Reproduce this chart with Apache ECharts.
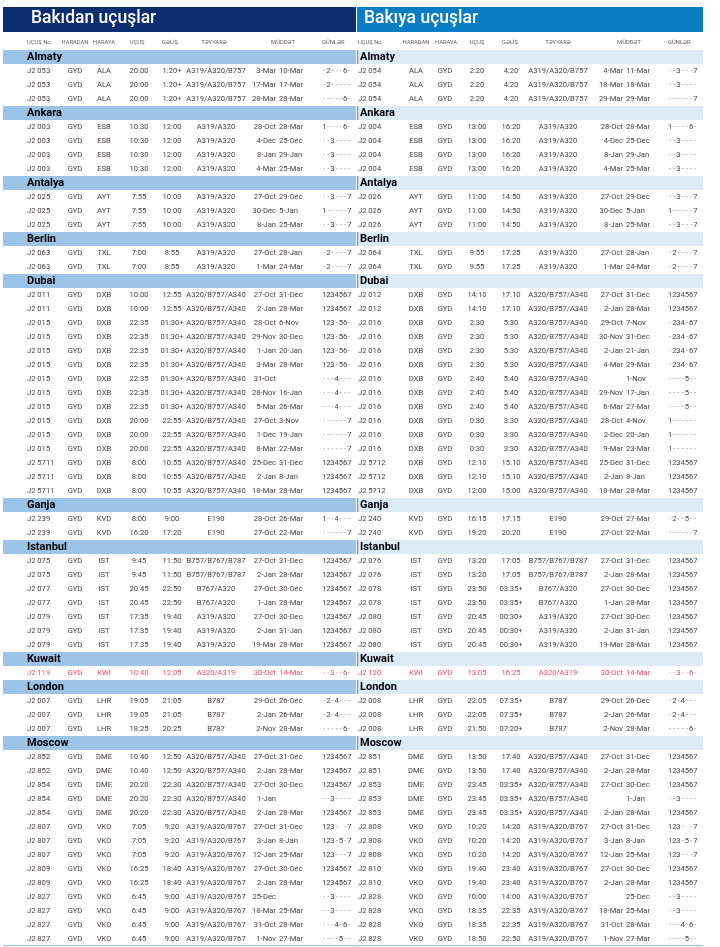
<!DOCTYPE html>
<html style="height: 100%">
<head>
    <meta charset="utf-8">
</head>
<body style="height: 100%; margin: 0; background: #fff">
<div id="container" style="width: 720px; height: 947px"></div>
<script type="text/javascript" src="https://cdn.jsdelivr.net/npm/echarts@6/dist/echarts.min.js"></script>
<script type="text/javascript">
    // sections (cities) in the order they appear
    var cities = ['Almaty', 'Ankara', 'Antalya', 'Berlin', 'Dubai', 'Ganja', 'Istanbul', 'Kuwait', 'London', 'Moscow'];
    var headLabels = ['UÇUŞ No.', 'HARADAN', 'HARAYA', 'UÇUŞ', 'GƏLİŞ', 'TƏYYARƏ', 'MÜDDƏT', 'GÜNLƏR'];
    var highlightFlights = ['J2 119', 'J2 120'];

    // Bakıdan uçuşlar: flight, from, to, dep, arr, aircraft, valid from, valid till, days
    var depAlmaty = [
        ['J2 053', 'GYD', 'ALA', '20:00', '1:20+', 'A319/A320/B757', '3-Mar', '10-Mar', '-2---6-'],
        ['J2 053', 'GYD', 'ALA', '20:00', '1:20+', 'A319/A320/B757', '17-Mar', '17-Mar', '-2-----'],
        ['J2 053', 'GYD', 'ALA', '20:00', '1:20+', 'A319/A320/B757', '28-Mar', '28-Mar', '-----6-']
    ];
    var depAnkara = [
        ['J2 003', 'GYD', 'ESB', '10:30', '12:00', 'A319/A320', '28-Oct', '28-Mar', '1----6-'],
        ['J2 003', 'GYD', 'ESB', '10:30', '12:00', 'A319/A320', '4-Dec', '25-Dec', '--3----'],
        ['J2 003', 'GYD', 'ESB', '10:30', '12:00', 'A319/A320', '8-Jan', '29-Jan', '--3----'],
        ['J2 003', 'GYD', 'ESB', '10:30', '12:00', 'A319/A320', '4-Mar', '25-Mar', '--3----']
    ];
    var depAntalya = [
        ['J2 025', 'GYD', 'AYT', '7:55', '10:00', 'A319/A320', '27-Oct', '29-Dec', '--3---7'],
        ['J2 025', 'GYD', 'AYT', '7:55', '10:00', 'A319/A320', '30-Dec', '5-Jan', '1-----7'],
        ['J2 025', 'GYD', 'AYT', '7:55', '10:00', 'A319/A320', '8-Jan', '25-Mar', '--3---7']
    ];
    var depBerlin = [
        ['J2 063', 'GYD', 'TXL', '7:00', '8:55', 'A319/A320', '27-Oct', '28-Jan', '-2----7'],
        ['J2 063', 'GYD', 'TXL', '7:00', '8:55', 'A319/A320', '1-Mar', '24-Mar', '-2----7']
    ];
    var depDubai = [
        ['J2 011', 'GYD', 'DXB', '10:00', '12:55', 'A320/B757/A340', '27-Oct', '31-Dec', '1234567'],
        ['J2 011', 'GYD', 'DXB', '10:00', '12:55', 'A320/B757/A340', '2-Jan', '28-Mar', '1234567'],
        ['J2 015', 'GYD', 'DXB', '22:35', '01:30+', 'A320/B757/A340', '28-Oct', '6-Nov', '123-56-'],
        ['J2 015', 'GYD', 'DXB', '22:35', '01:30+', 'A320/B757/A340', '29-Nov', '30-Dec', '123-56-'],
        ['J2 015', 'GYD', 'DXB', '22:35', '01:30+', 'A320/B757/A340', '1-Jan', '20-Jan', '123-56-'],
        ['J2 015', 'GYD', 'DXB', '22:35', '01:30+', 'A320/B757/A340', '3-Mar', '28-Mar', '123-56-'],
        ['J2 015', 'GYD', 'DXB', '22:35', '01:30+', 'A320/B757/A340', '31-Oct', '', '---4---'],
        ['J2 015', 'GYD', 'DXB', '22:35', '01:30+', 'A320/B757/A340', '28-Nov', '16-Jan', '---4---'],
        ['J2 015', 'GYD', 'DXB', '22:35', '01:30+', 'A320/B757/A340', '5-Mar', '26-Mar', '---4---'],
        ['J2 015', 'GYD', 'DXB', '20:00', '22:55', 'A320/B757/A340', '27-Oct', '3-Nov', '------7'],
        ['J2 015', 'GYD', 'DXB', '20:00', '22:55', 'A320/B757/A340', '1-Dec', '19-Jan', '------7'],
        ['J2 015', 'GYD', 'DXB', '20:00', '22:55', 'A320/B757/A340', '8-Mar', '22-Mar', '------7'],
        ['J2 5711', 'GYD', 'DXB', '8:00', '10:55', 'A320/B757/A340', '25-Dec', '31-Dec', '1234567'],
        ['J2 5711', 'GYD', 'DXB', '8:00', '10:55', 'A320/B757/A340', '2-Jan', '8-Jan', '1234567'],
        ['J2 5711', 'GYD', 'DXB', '8:00', '10:55', 'A320/B757/A340', '18-Mar', '28-Mar', '1234567']
    ];
    var depGanja = [
        ['J2 239', 'GYD', 'KVD', '8:00', '9:00', 'E190', '28-Oct', '26-Mar', '1--4---'],
        ['J2 239', 'GYD', 'KVD', '16:20', '17:20', 'E190', '27-Oct', '22-Mar', '------7']
    ];
    var depIstanbul = [
        ['J2 075', 'GYD', 'IST', '9:45', '11:50', 'B757/B767/B787', '27-Oct', '31-Dec', '1234567'],
        ['J2 075', 'GYD', 'IST', '9:45', '11:50', 'B757/B767/B787', '2-Jan', '28-Mar', '1234567'],
        ['J2 077', 'GYD', 'IST', '20:45', '22:50', 'B767/A320', '27-Oct', '30-Dec', '1234567'],
        ['J2 077', 'GYD', 'IST', '20:45', '22:50', 'B767/A320', '1-Jan', '28-Mar', '1234567'],
        ['J2 079', 'GYD', 'IST', '17:35', '19:40', 'A319/A320', '27-Oct', '30-Dec', '1234567'],
        ['J2 079', 'GYD', 'IST', '17:35', '19:40', 'A319/A320', '2-Jan', '31-Jan', '1234567'],
        ['J2 079', 'GYD', 'IST', '17:35', '19:40', 'A319/A320', '19-Mar', '28-Mar', '1234567']
    ];
    var depKuwait = [
        ['J2 119', 'GYD', 'KWI', '10:40', '12:05', 'A320/A319', '30-Oct', '14-Mar', '--3--6-']
    ];
    var depLondon = [
        ['J2 007', 'GYD', 'LHR', '19:05', '21:05', 'B787', '29-Oct', '26-Dec', '-2-4---'],
        ['J2 007', 'GYD', 'LHR', '19:05', '21:05', 'B787', '2-Jan', '26-Mar', '-2-4---'],
        ['J2 007', 'GYD', 'LHR', '18:25', '20:25', 'B787', '2-Nov', '28-Mar', '-----6-']
    ];
    var depMoscow = [
        ['J2 852', 'GYD', 'DME', '10:40', '12:50', 'A320/B757/A340', '27-Oct', '31-Dec', '1234567'],
        ['J2 852', 'GYD', 'DME', '10:40', '12:50', 'A320/B757/A340', '2-Jan', '28-Mar', '1234567'],
        ['J2 854', 'GYD', 'DME', '20:20', '22:30', 'A320/B757/A340', '27-Oct', '30-Dec', '1234567'],
        ['J2 854', 'GYD', 'DME', '20:20', '22:30', 'A320/B757/A340', '1-Jan', '', '--3----'],
        ['J2 854', 'GYD', 'DME', '20:20', '22:30', 'A320/B757/A340', '2-Jan', '28-Mar', '1234567'],
        ['J2 807', 'GYD', 'VKO', '7:05', '9:20', 'A319/A320/B767', '27-Oct', '31-Dec', '123- -7'],
        ['J2 807', 'GYD', 'VKO', '7:05', '9:20', 'A319/A320/B767', '3-Jan', '8-Jan', '123-5-7'],
        ['J2 807', 'GYD', 'VKO', '7:05', '9:20', 'A319/A320/B767', '12-Jan', '25-Mar', '123---7'],
        ['J2 809', 'GYD', 'VKO', '16:25', '18:40', 'A319/A320/B767', '27-Oct', '30-Dec', '1234567'],
        ['J2 809', 'GYD', 'VKO', '16:25', '18:40', 'A319/A320/B767', '2-Jan', '28-Mar', '1234567'],
        ['J2 827', 'GYD', 'VKO', '6:45', '9:00', 'A319/A320/B767', '25-Dec', '', '--3----'],
        ['J2 827', 'GYD', 'VKO', '6:45', '9:00', 'A319/A320/B767', '18-Mar', '25-Mar', '--3----'],
        ['J2 827', 'GYD', 'VKO', '6:45', '9:00', 'A319/A320/B767', '31-Oct', '28-Mar', '---4-6-'],
        ['J2 827', 'GYD', 'VKO', '6:45', '9:00', 'A319/A320/B767', '1-Nov', '27-Mar', '----5--']
    ];

    // Bakıya uçuşlar
    var retAlmaty = [
        ['J2 054', 'ALA', 'GYD', '2:20', '4:20', 'A319/A320/B757', '4-Mar', '11-Mar', '--3---7'],
        ['J2 054', 'ALA', 'GYD', '2:20', '4:20', 'A319/A320/B757', '18-Mar', '18-Mar', '--3----'],
        ['J2 054', 'ALA', 'GYD', '2:20', '4:20', 'A319/A320/B757', '29-Mar', '29-Mar', '------7']
    ];
    var retAnkara = [
        ['J2 004', 'ESB', 'GYD', '13:00', '16:20', 'A319/A320', '28-Oct', '28-Mar', '1----6-'],
        ['J2 004', 'ESB', 'GYD', '13:00', '16:20', 'A319/A320', '4-Dec', '25-Dec', '--3----'],
        ['J2 004', 'ESB', 'GYD', '13:00', '16:20', 'A319/A320', '8-Jan', '29-Jan', '--3----'],
        ['J2 004', 'ESB', 'GYD', '13:00', '16:20', 'A319/A320', '4-Mar', '25-Mar', '--3----']
    ];
    var retAntalya = [
        ['J2 026', 'AYT', 'GYD', '11:00', '14:50', 'A319/A320', '27-Oct', '29-Dec', '--3---7'],
        ['J2 026', 'AYT', 'GYD', '11:00', '14:50', 'A319/A320', '30-Dec', '5-Jan', '1-----7'],
        ['J2 026', 'AYT', 'GYD', '11:00', '14:50', 'A319/A320', '8-Jan', '25-Mar', '--3---7']
    ];
    var retBerlin = [
        ['J2 064', 'TXL', 'GYD', '9:55', '17:25', 'A319/A320', '27-Oct', '28-Jan', '-2----7'],
        ['J2 064', 'TXL', 'GYD', '9:55', '17:25', 'A319/A320', '1-Mar', '24-Mar', '-2----7']
    ];
    var retDubai = [
        ['J2 012', 'DXB', 'GYD', '14:10', '17:10', 'A320/B757/A340', '27-Oct', '31-Dec', '1234567'],
        ['J2 012', 'DXB', 'GYD', '14:10', '17:10', 'A320/B757/A340', '2-Jan', '28-Mar', '1234567'],
        ['J2 016', 'DXB', 'GYD', '2:30', '5:30', 'A320/B757/A340', '29-Oct', '7-Nov', '-234-67'],
        ['J2 016', 'DXB', 'GYD', '2:30', '5:30', 'A320/B757/A340', '30-Nov', '31-Dec', '-234-67'],
        ['J2 016', 'DXB', 'GYD', '2:30', '5:30', 'A320/B757/A340', '2-Jan', '21-Jan', '-234-67'],
        ['J2 016', 'DXB', 'GYD', '2:30', '5:30', 'A320/B757/A340', '4-Mar', '29-Mar', '-234-67'],
        ['J2 016', 'DXB', 'GYD', '2:40', '5:40', 'A320/B757/A340', '', '1-Nov', '----5--'],
        ['J2 016', 'DXB', 'GYD', '2:40', '5:40', 'A320/B757/A340', '29-Nov', '17-Jan', '----5--'],
        ['J2 016', 'DXB', 'GYD', '2:40', '5:40', 'A320/B757/A340', '6-Mar', '27-Mar', '----5--'],
        ['J2 016', 'DXB', 'GYD', '0:30', '3:30', 'A320/B757/A340', '28-Oct', '4-Nov', '1------'],
        ['J2 016', 'DXB', 'GYD', '0:30', '3:30', 'A320/B757/A340', '2-Dec', '20-Jan', '1------'],
        ['J2 016', 'DXB', 'GYD', '0:30', '3:30', 'A320/B757/A340', '9-Mar', '23-Mar', '1------'],
        ['J2 5712', 'DXB', 'GYD', '12:10', '15:10', 'A320/B757/A340', '25-Dec', '31-Dec', '1234567'],
        ['J2 5712', 'DXB', 'GYD', '12:10', '15:10', 'A320/B757/A340', '2-Jan', '8-Jan', '1234567'],
        ['J2 5712', 'DXB', 'GYD', '12:00', '15:00', 'A320/B757/A340', '18-Mar', '28-Mar', '1234567']
    ];
    var retGanja = [
        ['J2 240', 'KVD', 'GYD', '16:15', '17:15', 'E190', '29-Oct', '27-Mar', '-2--5--'],
        ['J2 240', 'KVD', 'GYD', '19:20', '20:20', 'E190', '27-Oct', '22-Mar', '------7']
    ];
    var retIstanbul = [
        ['J2 076', 'IST', 'GYD', '13:20', '17:05', 'B757/B767/B787', '27-Oct', '31-Dec', '1234567'],
        ['J2 076', 'IST', 'GYD', '13:20', '17:05', 'B757/B767/B787', '2-Jan', '28-Mar', '1234567'],
        ['J2 078', 'IST', 'GYD', '23:50', '03:35+', 'B767/A320', '27-Oct', '30-Dec', '1234567'],
        ['J2 078', 'IST', 'GYD', '23:50', '03:35+', 'B767/A320', '1-Jan', '28-Mar', '1234567'],
        ['J2 080', 'IST', 'GYD', '20:45', '00:30+', 'A319/A320', '27-Oct', '30-Dec', '1234567'],
        ['J2 080', 'IST', 'GYD', '20:45', '00:30+', 'A319/A320', '2-Jan', '31-Jan', '1234567'],
        ['J2 080', 'IST', 'GYD', '20:45', '00:30+', 'A319/A320', '19-Mar', '28-Mar', '1234567']
    ];
    var retKuwait = [
        ['J2 120', 'KWI', 'GYD', '13:05', '16:25', 'A320/A319', '30-Oct', '14-Mar', '--3--6-']
    ];
    var retLondon = [
        ['J2 008', 'LHR', 'GYD', '22:05', '07:35+', 'B787', '29-Oct', '26-Dec', '-2-4---'],
        ['J2 008', 'LHR', 'GYD', '22:05', '07:35+', 'B787', '2-Jan', '26-Mar', '-2-4---'],
        ['J2 008', 'LHR', 'GYD', '21:50', '07:20+', 'B787', '2-Nov', '28-Mar', '-----6-']
    ];
    var retMoscow = [
        ['J2 851', 'DME', 'GYD', '13:50', '17:40', 'A320/B757/A340', '27-Oct', '31-Dec', '1234567'],
        ['J2 851', 'DME', 'GYD', '13:50', '17:40', 'A320/B757/A340', '2-Jan', '28-Mar', '1234567'],
        ['J2 853', 'DME', 'GYD', '23:45', '03:35+', 'A320/B757/A340', '27-Oct', '30-Dec', '1234567'],
        ['J2 853', 'DME', 'GYD', '23:45', '03:35+', 'A320/B757/A340', '', '1-Jan', '--3----'],
        ['J2 853', 'DME', 'GYD', '23:45', '03:35+', 'A320/B757/A340', '2-Jan', '28-Mar', '1234567'],
        ['J2 808', 'VKO', 'GYD', '10:20', '14:20', 'A319/A320/B767', '27-Oct', '31-Dec', '123- -7'],
        ['J2 808', 'VKO', 'GYD', '10:20', '14:20', 'A319/A320/B767', '3-Jan', '8-Jan', '123-5-7'],
        ['J2 808', 'VKO', 'GYD', '10:20', '14:20', 'A319/A320/B767', '12-Jan', '25-Mar', '123---7'],
        ['J2 810', 'VKO', 'GYD', '19:40', '23:40', 'A319/A320/B767', '27-Oct', '30-Dec', '1234567'],
        ['J2 810', 'VKO', 'GYD', '19:40', '23:40', 'A319/A320/B767', '2-Jan', '28-Mar', '1234567'],
        ['J2 828', 'VKO', 'GYD', '10:00', '14:00', 'A319/A320/B767', '', '25-Dec', '--3----'],
        ['J2 828', 'VKO', 'GYD', '18:35', '22:35', 'A319/A320/B767', '18-Mar', '25-Mar', '--3----'],
        ['J2 828', 'VKO', 'GYD', '18:35', '22:35', 'A319/A320/B767', '31-Oct', '28-Mar', '---4-6-'],
        ['J2 828', 'VKO', 'GYD', '18:50', '22:50', 'A319/A320/B767', '1-Nov', '27-Mar', '----5--']
    ];

    var depSections = [depAlmaty, depAnkara, depAntalya, depBerlin, depDubai, depGanja, depIstanbul, depKuwait, depLondon, depMoscow];
    var retSections = [retAlmaty, retAnkara, retAntalya, retBerlin, retDubai, retGanja, retIstanbul, retKuwait, retLondon, retMoscow];

    var dom = document.getElementById("container");
    var myChart = echarts.init(dom);
    var FONT = 'Roboto, "Noto Sans", "DejaVu Sans", sans-serif';
    var textColor = '#473d3d';

    // layout of each half (pixel positions on the 0..720 x axis)
    var leftSide = {
        band: [3, 356], bandColor: '#9dc3e6', edge: null, nameX: 27,
        cols: [[27, 'left'], [75, 'center'], [104, 'center'], [139, 'center'], [172, 'center'],
               [216, 'center'], [276, 'right'], [279, 'left'], [322, 'days']],
        head: [[27, 'left'], [75, 'center'], [104, 'center'], [137, 'center'], [170, 'center'],
               [214, 'center'], [283, 'center'], [322, 'left']]
    };
    var rightSide = {
        band: [357, 703], bandColor: '#ddebf7', edge: '#5b9bd5', nameX: 360,
        cols: [[358, 'left'], [416, 'center'], [445, 'center'], [477, 'center'], [511, 'center'],
               [558, 'center'], [623, 'right'], [626, 'left'], [668, 'days']],
        head: [[358, 'left'], [416, 'center'], [446, 'center'], [477, 'center'], [510, 'center'],
               [558, 'center'], [629, 'center'], [668, 'left']]
    };

    function buildRows(sections) {
        var rows = [{kind: 'head'}];
        cities.forEach(function (c, i) {
            rows.push({kind: 'section', name: c});
            sections[i].forEach(function (r) {
                rows.push({kind: 'row', cells: r});
            });
        });
        return rows;
    }
    leftSide.rows = buildRows(depSections);
    rightSide.rows = buildRows(retSections);
    var rowCats = leftSide.rows.map(function (r, i) { return String(i); });

    function txt(text, x, y, align, size, color, weight) {
        return {
            type: 'text',
            style: {
                text: text, x: x, y: y, fill: color,
                font: (weight || 'normal') + ' ' + size + 'px ' + FONT,
                textAlign: align, align: align,
                textVerticalAlign: 'middle', verticalAlign: 'middle'
            }
        };
    }

    function makeRender(side) {
        return function (params, api) {
            var row = side.rows[params.dataIndex];
            var ri = api.value(1);
            var yc = api.coord([0, ri])[1];
            var h = api.size([0, 1])[1];
            var px = function (v) { return api.coord([v, ri])[0]; };
            var kids = [];
            if (row.kind === 'head') {
                side.head.forEach(function (c, k) {
                    kids.push(txt(headLabels[k], px(c[0]), yc, c[1], 5.8, '#665a5a'));
                });
            } else if (row.kind === 'section') {
                kids.push({type: 'rect', shape: {x: px(side.band[0]), y: yc - h / 2,
                    width: px(side.band[1]) - px(side.band[0]), height: h},
                    style: {fill: side.bandColor}});
                if (side.edge) {
                    kids.push({type: 'rect', shape: {x: px(side.band[0]), y: yc - h / 2, width: 1.2, height: h},
                        style: {fill: side.edge}});
                }
                kids.push(txt(row.name, px(side.nameX), yc + 0.5, 'left', 11, '#000', 'bold'));
            } else {
                var red = highlightFlights.indexOf(row.cells[0]) >= 0;
                var col = red ? '#f2445e' : textColor;
                side.cols.forEach(function (c, k) {
                    var v = row.cells[k];
                    if (!v) return;
                    if (c[1] === 'days') {
                        for (var j = 0; j < v.length; j++) {
                            var ch = v.charAt(j);
                            if (ch === ' ') continue;
                            var isDash = ch === '-';
                            kids.push(txt(ch, px(c[0]) + (j + 0.5) * 4.2, yc, 'center', 7.6,
                                isDash ? (red ? '#f58a9a' : '#8f8585') : col));
                        }
                    } else {
                        kids.push(txt(v, px(c[0]), yc, c[1], 7.6, col));
                    }
                });
                if (params.dataIndex === side.rows.length - 1) {
                    kids.push({type: 'rect', shape: {x: px(side.band[0]), y: yc + h / 2 - 1,
                        width: px(side.band[1]) - px(side.band[0]), height: 1.2},
                        style: {fill: '#9dc3e6'}});
                }
            }
            return {type: 'group', children: kids};
        };
    }

    function seriesData(side) {
        return side.rows.map(function (r, i) { return [0, i]; });
    }

    option = {
        animation: false,
        title: [
            {text: 'Bakıdan uçuşlar', left: 26, top: 5,
             textStyle: {color: '#fff', fontSize: 17.5, fontWeight: 500, fontFamily: FONT}},
            {text: 'Bakıya uçuşlar', left: 359, top: 5,
             textStyle: {color: '#fff', fontSize: 17.5, fontWeight: 500, fontFamily: FONT}}
        ],
        graphic: [
            {type: 'rect', z: -1, shape: {x: 3, y: 7, width: 353, height: 25}, style: {fill: '#0c2d6f'}},
            {type: 'rect', z: -1, shape: {x: 357, y: 7, width: 346, height: 25}, style: {fill: '#0a7dc5'}}
        ],
        grid: {left: 0, right: 0, top: 36, bottom: 1},
        xAxis: {type: 'value', min: 0, max: 720, show: false},
        yAxis: {type: 'category', data: rowCats, inverse: true, show: false},
        series: [
            {type: 'custom', name: 'Bakıdan', renderItem: makeRender(leftSide),
             encode: {x: 0, y: 1}, data: seriesData(leftSide), silent: true},
            {type: 'custom', name: 'Bakıya', renderItem: makeRender(rightSide),
             encode: {x: 0, y: 1}, data: seriesData(rightSide), silent: true}
        ]
    };
    if (option && typeof option === "object") {
        myChart.setOption(option, true);
    }
</script>
</body>
</html>
